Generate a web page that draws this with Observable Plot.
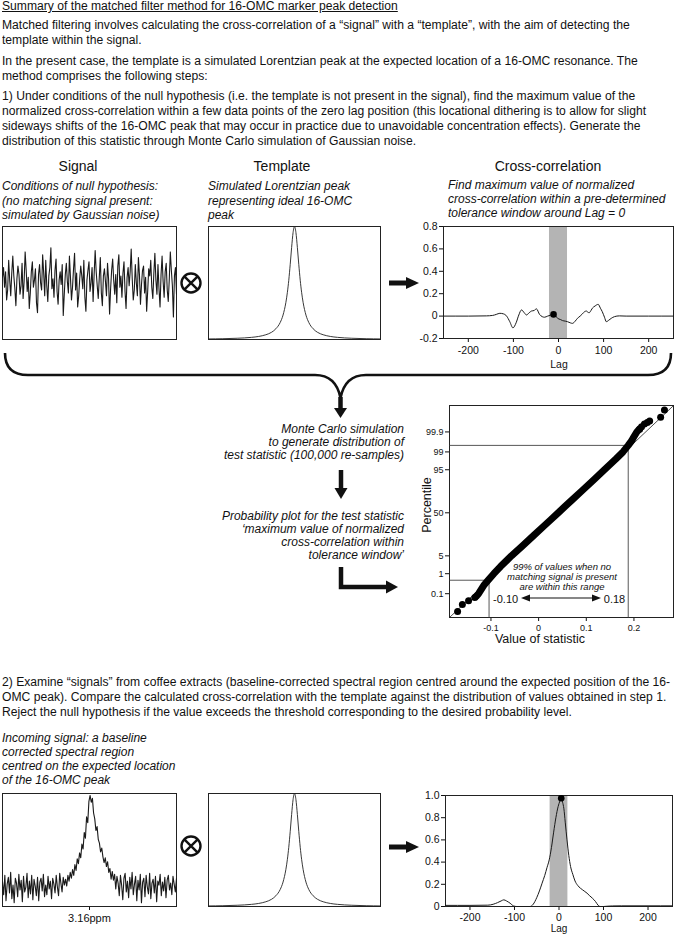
<!DOCTYPE html>
<html><head><meta charset="utf-8">
<script src="https://cdn.jsdelivr.net/npm/d3@7"></script>
<script src="https://cdn.jsdelivr.net/npm/@observablehq/plot@0.6"></script>
<style>
body{margin:0;background:#fff;}
#root{position:relative;width:676px;height:934px;overflow:hidden;font-family:"Liberation Sans",Arial,sans-serif;color:#111;background:#fff;}
#root svg{display:block;}
</style></head><body><div id="root"></div><script>
// ---------------- DATA ----------------
const titleText = "Summary of the matched filter method for 16-OMC marker peak detection";
const para1 = ["Matched filtering involves calculating the cross-correlation of a \u201csignal\u201d with a \u201ctemplate\u201d, with the aim of detecting the", "template within the signal."];
const para2 = ["In the present case, the template is a simulated Lorentzian peak at the expected location of a 16-OMC resonance. The", "method comprises the following steps:"];
const para3 = ["1) Under conditions of the null hypothesis (i.e. the template is not present in the signal), find the maximum value of the", "normalized cross-correlation within a few data points of the zero lag position (this locational dithering is to allow for slight", "sideways shifts of the 16-OMC peak that may occur in practice due to unavoidable concentration effects). Generate the", "distribution of this statistic through Monte Carlo simulation of Gaussian noise."];
const para4 = ["2) Examine \u201csignals\u201d from coffee extracts (baseline-corrected spectral region centred around the expected position of the 16-", "OMC peak). Compare the calculated cross-correlation with the template against the distribution of values obtained in step 1.", "Reject the null hypothesis if the value exceeds the threshold corresponding to the desired probability level."];
const headers = ["Signal", "Template", "Cross-correlation"];
const noteSignal = ["Conditions of null hypothesis:", "(no matching signal present:", "simulated by Gaussian noise)"];
const noteTemplate = ["Simulated Lorentzian peak", "representing ideal 16-OMC", "peak"];
const noteCC = ["Find maximum value of normalized", "cross-correlation within a pre-determined", "tolerance window around Lag = 0"];
const noteMC = ["Monte Carlo simulation", "to generate distribution of", "test statistic (100,000 re-samples)"];
const noteProb = ["Probability plot for the test statistic", "\u2018maximum value of normalized", "cross-correlation within", "tolerance window\u2019"];
const noteIncoming = ["Incoming signal: a baseline", "corrected spectral region", "centred on the expected location", "of the 16-OMC peak"];
const noteRange = ["99% of values when no", "matching signal is present", "are within this range"];

// simulated Gaussian noise signal (top)
const sigTop = [0.4,1.1,-0.3,0.8,-1.2,-0.5,1.6,0.2,-0.9,0.7,1.9,0.5,-0.4,-1.6,0.3,1.2,0.6,-0.8,-0.2,1.4,
 -1.1,0.1,2.2,0.9,-0.6,0.4,-1.8,-0.7,0.8,1.5,-0.3,0.2,1.0,-1.4,-2.1,0.6,1.3,0.0,-0.5,2.0,
 0.7,-0.9,1.6,-0.2,-1.3,0.5,1.1,2.5,-0.4,0.3,-1.0,0.9,1.7,-0.6,-1.5,0.2,0.8,-0.1,1.3,-2.3,
 -0.8,0.6,1.4,0.1,-0.7,1.9,0.4,-1.2,-0.3,1.0,2.1,-0.5,0.7,-1.7,-0.9,0.3,1.2,0.5,-0.4,1.6,
 -1.0,-2.0,0.2,0.9,1.5,-0.6,0.0,1.1,-1.3,0.6,2.3,0.8,-0.2,-1.1,0.4,1.8,-0.7,-1.6,0.5,1.0,
 0.1,-0.9,1.4,0.3,-2.2,-0.4,0.9,1.7,0.2,-0.8,0.6,-1.4,1.2,2.0,-0.3,0.5,-1.0,0.7,1.5,-0.6,
 -1.8,0.4,1.1,-0.2,0.8,2.4,0.3,-1.2,-0.5,1.3,0.0,-0.9,1.8,0.6,-1.5,-0.1,0.9,1.2,-0.7,0.4,
 -2.0,-0.6,1.0,0.5,1.6,-0.3,-1.1,0.7,2.1,0.2,-0.8,1.3,-0.4,-1.7,0.6,1.9,0.1,-1.0,0.8,1.4,
 -0.5,-1.3,0.3,2.2,0.9,-0.2,-2.4,0.5,1.1,-0.8];
// incoming coffee-extract signal (bottom)
const sigBot = [0.5,-0.8,1.2,-1.4,0.3,1.0,-0.6,1.5,-1.2,0.2,-1.6,0.9,0.4,-1.0,1.3,-0.3,0.7,-1.5,1.1,-0.5,0.0,1.4,-1.1,0.6,-0.7,1.2,-1.3,0.8,0.1,-0.9,1.0,-1.4,0.5,0.9,-0.4,1.3,-1.0,0.2,-0.8,1.1,-0.2,0.6,-1.2,0.9,0.3,-0.6,1.2,0.0,-0.9,1.4,0.4,-0.5,1.0,0.2,0.8,
 0.1,1.2,0.6,1.5,0.9,1.8,1.2,2.3,1.7,2.9,2.4,3.5,3.0,4.4,3.9,5.6,5.0,7.2,6.6,8.8,
 9.4,8.7,9.1,7.6,7.0,
 5.8,6.2,4.9,4.5,3.6,4.0,3.1,2.5,3.0,2.1,2.6,1.5,1.9,0.8,1.6,0.7,1.3,-0.2,1.1,0.4,
 -0.9,1.2,0.2,-1.3,0.9,1.4,-0.5,0.6,-1.1,1.0,-0.2,1.5,-0.8,0.3,1.1,-1.4,0.7,-0.3,1.3,-1.6,0.5,0.9,-1.0,1.2,0.0,-0.7,1.4,-1.2,0.4,0.8,-0.6,1.1,-1.5,0.6,0.2,1.3,-0.9,0.5,-0.4,1.0,-1.1,0.7,1.2,-0.3,0.4,-0.8,1.1,0.3,-0.5,0.9];
const sigBotTickLabel = "3.16ppm";

// Lorentzian template
const tplX = [-60,-50,-40,-30,-25,-20,-16,-13,-10,-8,-6,-5,-4,-3,-2,-1,0,1,2,3,4,5,6,8,10,13,16,20,25,30,40,50,60];
const tplY = [0.005,0.007,0.011,0.019,0.027,0.042,0.064,0.095,0.15,0.216,0.329,0.414,0.524,0.662,0.815,0.946,1,0.946,0.815,0.662,0.524,0.414,0.329,0.216,0.15,0.095,0.064,0.042,0.027,0.019,0.011,0.007,0.005];

// cross-correlation under the null hypothesis
const ccLagTop = [-255,-200,-160,-146,-138,-130,-122,-115,-108,-101,-94,-88,-82,-76,-71,-65,-60,-54,-49,-42,-36,-31,-24,-18,-11,-6,-2,4,9,15,20,26,31,37,42,48,53,58,62,65,68,72,75,81,88,93,97,102,106,112,117,124,135,150,200,255];
const ccValTop = [0,0,0.002,0.006,0.015,0.025,0.02,0.0,-0.05,-0.105,-0.06,0.01,0.055,0.03,0.01,0.03,0.045,0.05,0.065,0.015,-0.005,-0.01,0.0,0.008,0.015,0.0,-0.02,-0.03,-0.04,-0.045,-0.05,-0.06,-0.065,-0.045,-0.02,0.0,0.02,0.04,0.045,0.035,0.03,0.05,0.07,0.09,0.105,0.07,0.04,-0.01,-0.05,-0.035,-0.02,-0.005,0.002,0,0,0];
const ccMaxTop = {lag: -11, value: 0.015};
// cross-correlation of the coffee signal
const ccLagBot = [-255,-200,-160,-148,-138,-130,-124,-118,-110,-102,-95,-85,-75,-65,-58,-50,-44,-38,-32,-27,-22,-17,-12,-7,-2,2,5,8,11,14,18,22,26,31,36,42,48,53,58,63,68,75,82,88,92,100,110,120,140,200,255];
const ccValBot = [0.01,0.01,0.012,0.02,0.035,0.05,0.06,0.05,0.03,0.005,0,0,0,0,0.02,0.08,0.14,0.21,0.28,0.35,0.42,0.53,0.67,0.8,0.9,0.95,0.975,0.94,0.88,0.76,0.6,0.46,0.36,0.29,0.23,0.19,0.165,0.15,0.135,0.12,0.1,0.075,0.045,0.01,0,0,0.003,0.005,0.006,0.006,0.006];
const ccMaxBot = {lag: 5, value: 0.975};
const toleranceWindow = [-20, 20];
const lagTicks = [-200,-100,0,100,200];
const ccTopTicks = [-0.2,0,0.2,0.4,0.6,0.8];
const ccBotTicks = [0,0.2,0.4,0.6,0.8,1.0];

// probability plot (percentile vs value of statistic)
const probPct = [0.07,0.1,0.3,0.5,1,2,5,10,20,30,40,50,60,70,80,90,95,98,99,99.5,99.7,99.8,99.9,99.93];
const probVal = [-0.131,-0.126,-0.114,-0.106,-0.094,-0.080,-0.057,-0.035,-0.009,0.010,0.026,0.041,0.056,0.072,0.091,0.117,0.138,0.162,0.177,0.188,0.195,0.199,0.206,0.211];
const tailPct = [0.008,0.023,0.039,0.06,99.93,99.95,99.966,99.972,99.977,99.987,99.9958];
const tailVal = [-0.170,-0.160,-0.147,-0.134,0.212,0.216,0.222,0.228,0.233,0.256,0.264];
const fitLine = [{pct: 0.00317, value: -0.187}, {pct: 99.9979, value: 0.283}];
const pctTicks = [0.1, 1, 5, 50, 95, 99, 99.9];
const pctTickLabels = ["0.1", "1", "5", "50", "95", "99", "99.9"];
const valueTicks = [-0.1, 0, 0.1, 0.2];
const lowerThr = {value: -0.104, pct: 0.5, label: "-0.10"};
const upperThr = {value: 0.188, pct: 99.5, label: "0.18"};

// ---------------- HELPERS ----------------
const FONT = '"Liberation Sans", Arial, sans-serif';
const root = document.getElementById("root");
function probit(p){
  const a=[-3.969683028665376e+01,2.209460984245205e+02,-2.759285104469687e+02,1.383577518672690e+02,-3.066479806614716e+01,2.506628277459239e+00];
  const b=[-5.447609879822406e+01,1.615858368580409e+02,-1.556989798598866e+02,6.680131188771972e+01,-1.328068155288572e+01];
  const c=[-7.784894002430293e-03,-3.223964580411365e-01,-2.400758277161838e+00,-2.549732539343734e+00,4.374664141464968e+00,2.938163982698783e+00];
  const d=[7.784695709041462e-03,3.224671290700398e-01,2.445134137142996e+00,3.754408661907416e+00];
  const pl=0.02425, ph=1-pl; let q, r;
  if(p<pl){q=Math.sqrt(-2*Math.log(p));return (((((c[0]*q+c[1])*q+c[2])*q+c[3])*q+c[4])*q+c[5])/((((d[0]*q+d[1])*q+d[2])*q+d[3])*q+1);}
  if(p<=ph){q=p-0.5;r=q*q;return (((((a[0]*r+a[1])*r+a[2])*r+a[3])*r+a[4])*r+a[5])*q/(((((b[0]*r+b[1])*r+b[2])*r+b[3])*r+b[4])*r+1);}
  q=Math.sqrt(-2*Math.log(1-p));return -(((((c[0]*q+c[1])*q+c[2])*q+c[3])*q+c[4])*q+c[5])/((((d[0]*q+d[1])*q+d[2])*q+d[3])*q+1);
}
const z = pct => probit(pct/100);
function txt(str, x, y, o = {}){
  const size = o.size || 12;
  const el = document.createElement("div");
  el.textContent = str;
  el.style.cssText = `position:absolute;left:${x}px;top:${y - size*0.58}px;font-size:${size}px;line-height:${size*1.15}px;white-space:nowrap;`;
  if (o.italic) el.style.fontStyle = "italic";
  if (o.underline) el.style.textDecoration = "underline";
  if (o.anchor === "middle") el.style.transform = "translateX(-50%)";
  if (o.anchor === "end") el.style.transform = "translateX(-100%)";
  root.appendChild(el);
  return el;
}
function place(svg, left, top){
  const d = document.createElement("div");
  d.style.cssText = `position:absolute;left:${left}px;top:${top}px;`;
  d.appendChild(svg);
  root.appendChild(d);
}
const style = {fontFamily: FONT, fontSize: "10.5px", color: "#111", background: "transparent", overflow: "visible"};
const rows = (xs, ys) => xs.map((x, i) => ({x, y: ys[i]}));
const fmt1 = d => d === 0 ? "0" : d.toFixed(1);

// ---------------- TEXT ----------------
const body = [];
body.push(txt(titleText, 2, 7, {underline: true}));
para1.forEach((s, i) => body.push(txt(s, 2, 26 + i*15)));
para2.forEach((s, i) => body.push(txt(s, 2, 62 + i*15)));
para3.forEach((s, i) => body.push(txt(s, 2, 97 + i*15)));
para4.forEach((s, i) => body.push(txt(s, 2, 683 + i*15)));
const ref = body[1 + para1.length + para2.length + 1];
const sc = Math.max(0.85, Math.min(1.08, 644 / ref.getBoundingClientRect().width));
body.forEach(el => { el.style.transformOrigin = "0 0"; el.style.transform = `scaleX(${sc})`; });

txt(headers[0], 78, 166, {size: 14, anchor: "middle"});
txt(headers[1], 282, 166, {size: 14, anchor: "middle"});
txt(headers[2], 548, 166, {size: 14, anchor: "middle"});
noteSignal.forEach((s, i) => txt(s, 2, 187 + i*14.5, {italic: true}));
noteTemplate.forEach((s, i) => txt(s, 208, 187 + i*14.5, {italic: true}));
noteCC.forEach((s, i) => txt(s, 448, 186 + i*14, {italic: true}));
noteMC.forEach((s, i) => txt(s, 404, 430 + i*13, {italic: true, anchor: "end"}));
noteProb.forEach((s, i) => txt(s, 404, 517 + i*13, {italic: true, anchor: "end"}));
noteIncoming.forEach((s, i) => txt(s, 2, 739 + i*14, {italic: true}));
noteRange.forEach((s, i) => txt(s, 562, 568 + i*10, {italic: true, size: 9.5, anchor: "middle"}));
txt("Lag", 559, 364, {size: 10.5, anchor: "middle"});
txt("Lag", 559, 929, {size: 10, anchor: "middle"});
txt("Value of statistic", 540, 639, {size: 12.5, anchor: "middle"});
const pl = txt("Percentile", 427, 505, {size: 12.5});
pl.style.transform = "translate(-50%,-50%) rotate(-90deg)";
pl.style.top = "505px";

// ---------------- PLOTS ----------------
// top signal
place(Plot.plot({
  width: 180, height: 125, marginLeft: 2, marginRight: 4, marginTop: 6, marginBottom: 6, style,
  x: {axis: null, domain: [0, sigTop.length - 1]}, y: {axis: null, domain: [-4, 4]},
  marks: [Plot.frame({stroke: "#222"}), Plot.line(sigTop, {x: (d, i) => i, y: d => d, stroke: "#1a1a1a", strokeWidth: 1.1})]
}), 0, 220);
// templates
const tplRows = rows(tplX, tplY);
const tplPlot = () => Plot.plot({
  width: 185, height: 125, marginLeft: 8, marginRight: 5, marginTop: 6, marginBottom: 6, style,
  x: {axis: null, domain: [-60, 60]}, y: {axis: null, domain: [0, 1]},
  marks: [Plot.frame({stroke: "#222"}), Plot.line(tplRows, {x: "x", y: "y", stroke: "#222", strokeWidth: 0.9, curve: "monotone-x"})]
});
place(tplPlot(), 200, 220);
place(tplPlot(), 200, 787);
// bottom signal
place(Plot.plot({
  width: 180, height: 147, marginLeft: 2, marginRight: 4, marginTop: 6, marginBottom: 28, style: {...style, fontSize: "11px"},
  x: {domain: [0, sigBot.length - 1], ticks: [(sigBot.length - 1) / 2], tickFormat: () => sigBotTickLabel, tickSize: 4, tickPadding: 4, label: null},
  y: {axis: null, domain: [-2, 9.6]},
  marks: [Plot.frame({stroke: "#222"}), Plot.line(sigBot, {x: (d, i) => i, y: d => d, stroke: "#1a1a1a", strokeWidth: 1.1})]
}), 0, 787);
// cross-correlation top
place(Plot.plot({
  width: 276, height: 164, marginLeft: 43, marginRight: 3, marginTop: 10, marginBottom: 42, style,
  x: {domain: [-255, 255], ticks: lagTicks, tickFormat: d => String(d), tickSize: 4, tickPadding: 4, label: null},
  y: {domain: [-0.2, 0.8], ticks: ccTopTicks, tickFormat: fmt1, tickSize: 4, tickPadding: 2, label: null},
  marks: [
    Plot.rect([toleranceWindow], {x1: d => d[0], x2: d => d[1], y1: () => -0.2, y2: () => 0.8, fill: "#b4b4b4"}),
    Plot.frame({stroke: "#222"}),
    Plot.line(rows(ccLagTop, ccValTop), {x: "x", y: "y", stroke: "#1a1a1a", strokeWidth: 1, curve: "monotone-x"}),
    Plot.dot([ccMaxTop], {x: "lag", y: "value", r: 3.3, fill: "#000"})
  ]
}), 400, 216);
// cross-correlation bottom
place(Plot.plot({
  width: 276, height: 149, marginLeft: 45, marginRight: 4, marginTop: 10, marginBottom: 28, style,
  x: {domain: [-255, 255], ticks: lagTicks, tickFormat: d => String(d), tickSize: 4, tickPadding: 3, label: null},
  y: {domain: [0, 1], ticks: ccBotTicks, tickFormat: fmt1, tickSize: 4, tickPadding: 2, label: null},
  marks: [
    Plot.rect([toleranceWindow], {x1: d => d[0], x2: d => d[1], y1: () => 0, y2: () => 1, fill: "#b4b4b4"}),
    Plot.frame({stroke: "#222"}),
    Plot.line(rows(ccLagBot, ccValBot), {x: "x", y: "y", stroke: "#1a1a1a", strokeWidth: 1, curve: "monotone-x"}),
    Plot.dot([ccMaxBot], {x: "lag", y: "value", r: 3.3, fill: "#000"})
  ]
}), 400, 785);
// probability plot
const pctZ = pctTicks.map(z);
const xMin = -0.187, zMin = -4.0, zMax = 4.1;
const qRows = probVal.map((v, i) => ({v, z: z(probPct[i])}));
const tRows = tailVal.map((v, i) => ({v, z: z(tailPct[i])}));
place(Plot.plot({
  width: 276, height: 255, marginLeft: 49, marginRight: 3, marginTop: 10, marginBottom: 33, style: {...style, fontSize: "9px"},
  x: {domain: [xMin, 0.283], ticks: valueTicks, tickFormat: d => d === 0 ? "0" : String(d), tickSize: 4, tickPadding: 3, label: null},
  y: {domain: [zMin, zMax], ticks: pctZ, tickFormat: v => pctTickLabels[pctZ.findIndex(t => Math.abs(t - v) < 1e-9)], tickSize: 4, tickPadding: 2, label: null},
  marks: [
    Plot.frame({stroke: "#222"}),
    Plot.link([fitLine], {x1: d => d[0].value, y1: d => z(d[0].pct), x2: d => d[1].value, y2: d => z(d[1].pct), stroke: "#222", strokeWidth: 0.8}),
    Plot.link([lowerThr, upperThr], {x1: () => xMin, x2: d => d.value, y1: d => z(d.pct), y2: d => z(d.pct), stroke: "#444", strokeWidth: 0.9}),
    Plot.link([lowerThr, upperThr], {x1: d => d.value, x2: d => d.value, y1: () => zMin, y2: d => z(d.pct), stroke: "#444", strokeWidth: 0.9}),
    Plot.line(qRows, {x: "v", y: "z", stroke: "#000", strokeWidth: 7, strokeLinecap: "round"}),
    Plot.dot(tRows, {x: "v", y: "z", r: 3.5, fill: "#000"}),
    Plot.text([lowerThr], {x: "value", y: d => z(d.pct), text: "label", textAnchor: "start", dx: 4, dy: 19, fontSize: 11}),
    Plot.text([upperThr], {x: "value", y: d => z(lowerThr.pct), text: "label", textAnchor: "end", dx: -3, dy: 19, fontSize: 11})
  ]
}), 400, 395);

// ---------------- DECORATIONS ----------------
const ns = "http://www.w3.org/2000/svg";
const deco = document.createElementNS(ns, "svg");
deco.setAttribute("width", 676); deco.setAttribute("height", 934);
deco.style.cssText = "position:absolute;left:0;top:0;pointer-events:none;";
deco.innerHTML = `
<g fill="none" stroke="#111" stroke-linecap="butt">
  <path d="M5,353 Q5,375 28,375 L315,375 Q336,375 340.5,398 Q345,375 366,375 L648,375 Q671,375 671,353" stroke-width="2.6"/>
  <line x1="340.5" y1="397" x2="340.5" y2="409" stroke-width="4.5"/>
  <line x1="341" y1="470" x2="341" y2="489" stroke-width="4.5"/>
  <path d="M341,567 V587 H388" stroke-width="4.5"/>
  <line x1="389" y1="283" x2="408" y2="283" stroke-width="5"/>
  <line x1="389" y1="847" x2="408" y2="847" stroke-width="5"/>
  <circle cx="191" cy="283" r="9.5" stroke-width="2.4"/>
  <path d="M184.3,276.3 L197.7,289.7 M197.7,276.3 L184.3,289.7" stroke-width="2.4"/>
  <circle cx="191" cy="846" r="9.5" stroke-width="2.4"/>
  <path d="M184.3,839.3 L197.7,852.7 M197.7,839.3 L184.3,852.7" stroke-width="2.4"/>
  <line x1="527" y1="598" x2="595" y2="598" stroke-width="1.2"/>
</g>
<g fill="#111">
  <polygon points="334,408 347,408 340.5,418"/>
  <polygon points="334.5,488 347.5,488 341,499"/>
  <polygon points="386,580.5 386,593.5 398,587"/>
  <polygon points="406,277 406,289 419,283"/>
  <polygon points="406,841 406,853 419,847"/>
  <polygon points="521,598 530,594.5 530,601.5"/>
  <polygon points="601,598 592,594.5 592,601.5"/>
</g>`;
root.appendChild(deco);
</script></body></html>
